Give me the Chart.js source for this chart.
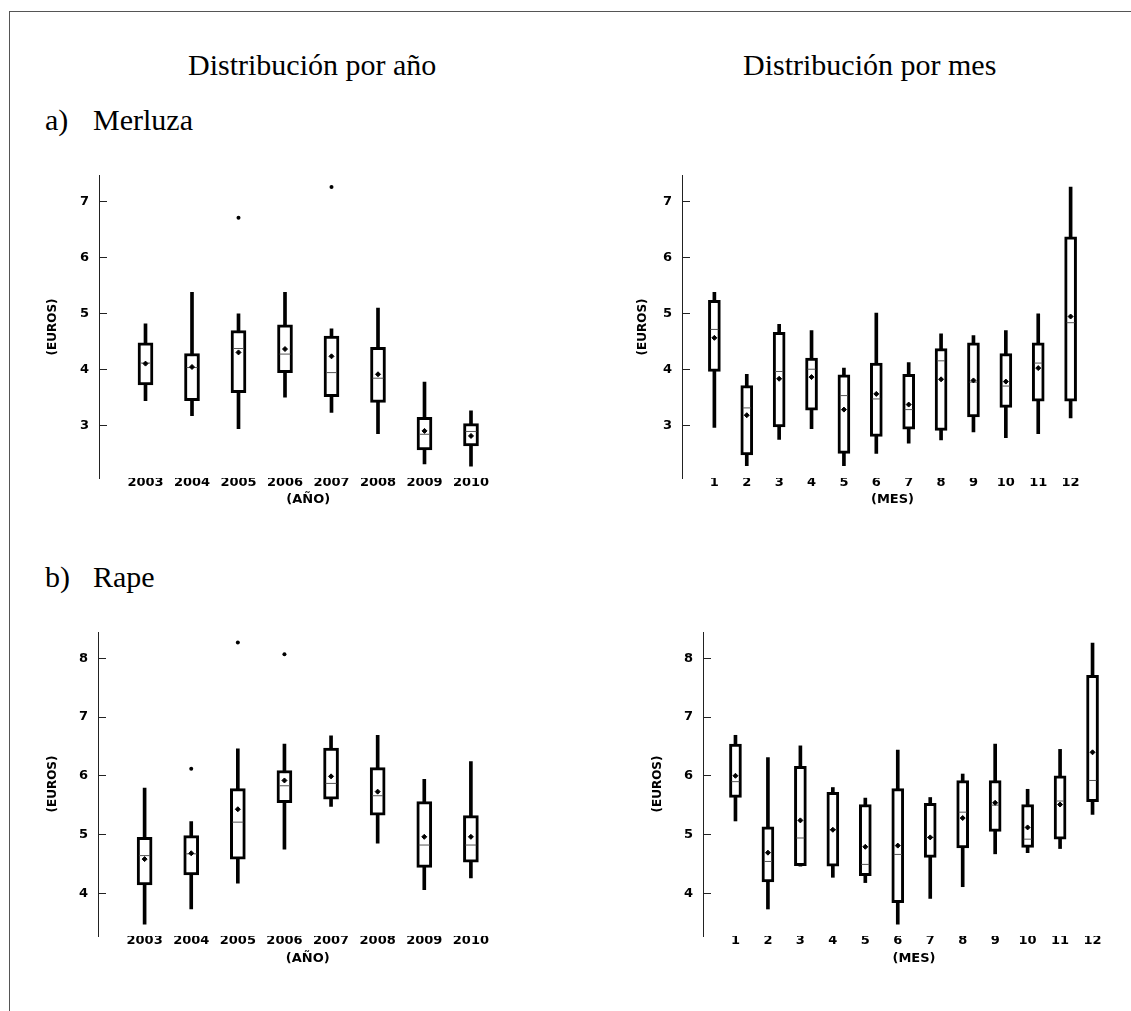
<!DOCTYPE html>
<html>
<head>
<meta charset="utf-8">
<script src="https://cdn.jsdelivr.net/npm/chart.js@4"></script>
<style>
  body { margin: 0; background: #fff; width: 1131px; height: 1011px; position: relative; overflow: hidden; }
  .frame { position: absolute; left: 9px; top: 11px; width: 1200px; height: 1100px;
           border-left: 1.5px solid #555; border-top: 1.5px solid #555; }
  .txt { position: absolute; font-family: "Liberation Serif", "Times New Roman", serif;
         font-size: 30px; line-height: 1; color: #000; white-space: nowrap; }
  canvas { position: absolute; }
</style>
</head>
<body>
<div class="frame"></div>
<div class="txt" style="left:188px; top:50px;">Distribución por año</div>
<div class="txt" style="left:743px; top:50px;">Distribución por mes</div>
<div class="txt" style="left:45px; top:105px;">a)</div>
<div class="txt" style="left:93px; top:105px;">Merluza</div>
<div class="txt" style="left:45px; top:562px;">b)</div>
<div class="txt" style="left:93px; top:562px;">Rape</div>

<canvas id="merAno" width="504" height="368" style="left:20px; top:150px;"></canvas>
<canvas id="merMes" width="493" height="368" style="left:615px; top:150px;"></canvas>
<canvas id="rapAno" width="504" height="376" style="left:20px; top:600px;"></canvas>
<canvas id="rapMes" width="500" height="376" style="left:630px; top:600px;"></canvas>

<script>
console.log("JS is loading");

// categories
const years = ['2003', '2004', '2005', '2006', '2007', '2008', '2009', '2010'];
const months = ['1', '2', '3', '4', '5', '6', '7', '8', '9', '10', '11', '12'];

// a) Merluza - por año
const merAnoMin  = [3.45, 3.18, 2.95, 3.51, 3.24, 2.86, 2.32, 2.28];
const merAnoQ1   = [3.73, 3.45, 3.59, 3.95, 3.52, 3.42, 2.57, 2.64];
const merAnoMed  = [4.12, 4.04, 4.38, 4.28, 3.95, 3.85, 2.85, 2.90];
const merAnoQ3   = [4.48, 4.29, 4.70, 4.80, 4.60, 4.40, 3.15, 3.04];
const merAnoMax  = [4.82, 5.38, 5.00, 5.38, 4.73, 5.10, 3.78, 3.27];
const merAnoMean = [4.11, 4.05, 4.31, 4.37, 4.24, 3.92, 2.91, 2.82];
const merAnoOutCat = ['2005', '2007'];
const merAnoOutVal = [6.71, 7.26];

// a) Merluza - por mes
const merMesMin  = [2.97, 2.29, 2.76, 2.95, 2.29, 2.51, 2.69, 2.75, 2.89, 2.79, 2.86, 3.14];
const merMesQ1   = [3.97, 2.48, 2.98, 3.28, 2.51, 2.81, 2.94, 2.92, 3.16, 3.33, 3.44, 3.44];
const merMesMed  = [4.72, 3.32, 3.97, 4.01, 3.54, 3.48, 3.29, 4.16, 3.78, 3.71, 4.12, 4.84];
const merMesQ3   = [5.24, 3.72, 4.67, 4.21, 3.91, 4.12, 3.92, 4.38, 4.48, 4.29, 4.48, 6.37];
const merMesMax  = [5.38, 3.92, 4.81, 4.70, 4.03, 5.01, 4.13, 4.64, 4.61, 4.70, 5.00, 7.26];
const merMesMean = [4.57, 3.19, 3.84, 3.87, 3.29, 3.57, 3.38, 3.83, 3.81, 3.79, 4.03, 4.95];

// b) Rape - por año
const rapAnoMin  = [3.47, 3.73, 4.17, 4.75, 5.48, 4.85, 4.06, 4.26];
const rapAnoQ1   = [4.14, 4.31, 4.58, 5.54, 5.60, 5.33, 4.44, 4.53];
const rapAnoMed  = [4.64, 4.67, 5.21, 5.83, 5.87, 5.66, 4.82, 4.82];
const rapAnoQ3   = [4.95, 4.98, 5.78, 6.09, 6.47, 6.14, 5.56, 5.32];
const rapAnoMax  = [5.79, 5.22, 6.46, 6.54, 6.68, 6.69, 5.94, 6.24];
const rapAnoMean = [4.58, 4.68, 5.43, 5.92, 5.99, 5.73, 4.96, 4.96];
const rapAnoOutCat = ['2004', '2005', '2006'];
const rapAnoOutVal = [6.12, 8.27, 8.07];

// b) Rape - por mes
const rapMesMin  = [5.23, 3.73, 4.46, 4.27, 4.18, 3.47, 3.91, 4.11, 4.67, 4.69, 4.76, 5.34];
const rapMesQ1   = [5.63, 4.19, 4.47, 4.46, 4.30, 3.84, 4.61, 4.77, 5.05, 4.78, 4.92, 5.56];
const rapMesMed  = [5.90, 4.54, 4.94, 5.08, 4.49, 4.66, 4.95, 5.38, 5.50, 4.92, 5.57, 5.92];
const rapMesQ3   = [6.54, 5.13, 6.16, 5.72, 5.51, 5.78, 5.53, 5.92, 5.92, 5.51, 6.00, 7.71];
const rapMesMax  = [6.69, 6.31, 6.51, 5.80, 5.62, 6.44, 5.63, 6.03, 6.54, 5.77, 6.45, 8.26];
const rapMesMean = [6.00, 4.69, 5.24, 5.08, 4.79, 4.81, 4.95, 5.28, 5.54, 5.12, 5.51, 6.40];

const sans = "'DejaVu Sans', 'Open Sans', sans-serif";
const tickFont = { family: sans, size: 13, weight: 'bold' };
const xTickFont = { family: sans, size: 13, weight: 'bold', lineHeight: 0.75 };
const yTitleFont = { family: sans, size: 12, weight: 'bold' };

function boxChart(id, cats, lo, q1, med, q3, hi, mean, outCat, outVal, cfg) {
  const pos = (i) => i + 1;
  const datasets = [
    { // mean
      type: 'scatter', order: 0,
      data: mean.map((v, i) => ({ x: pos(i), y: v })),
      pointStyle: 'rectRot', radius: 2.5, backgroundColor: '#000', borderColor: '#000', borderWidth: 1
    },
    { // outliers
      type: 'scatter', order: 0,
      data: outCat.map((c, i) => ({ x: cats.indexOf(c) + 1, y: outVal[i] })),
      pointStyle: 'circle', radius: 2, backgroundColor: '#000', borderColor: '#000', borderWidth: 0
    },
    { // median
      type: 'scatter', order: 1,
      data: med.map((v, i) => ({ x: pos(i), y: v })),
      pointStyle: 'line', radius: cfg.boxW / 2 - 2, borderColor: '#555', borderWidth: 1
    },
    { // box
      type: 'bar', order: 2,
      data: q1.map((v, i) => ({ x: pos(i), y: [v, q3[i]] })),
      backgroundColor: '#fff', borderColor: '#000', borderWidth: 3, borderSkipped: false,
      barThickness: cfg.boxW, grouped: false
    },
    { // whiskers
      type: 'bar', order: 3,
      data: lo.map((v, i) => ({ x: pos(i), y: [v, hi[i]] })),
      backgroundColor: '#000', borderWidth: 0,
      barThickness: 3, grouped: false
    }
  ];

  return new Chart(document.getElementById(id), {
    type: 'bar',
    data: { datasets },
    options: {
      responsive: false,
      animation: false,
      events: [],
      layout: { padding: { top: cfg.padTop, left: 0, right: 0, bottom: 0 } },
      plugins: { legend: { display: false }, tooltip: { enabled: false } },
      scales: {
        x: {
          type: 'linear', offset: false,
          min: 0, max: cats.length + 1,
          grid: { display: false, drawTicks: false },
          border: { display: false },
          ticks: {
            stepSize: 1, autoSkip: false, maxRotation: 0, padding: 0,
            color: '#000', font: xTickFont,
            callback: (v) => cats[v - 1] || ''
          },
          title: { display: true, text: cfg.xTitle, color: '#000', font: tickFont,
                   padding: { top: 0, bottom: cfg.xTitlePad } },
          afterFit: (s) => { s.height = 40; }
        },
        y: {
          type: 'linear',
          min: cfg.yMin, max: cfg.yMax,
          grid: { drawOnChartArea: false, drawTicks: true, tickLength: -8, color: '#222', lineWidth: 1 },
          border: { display: true, color: '#222', width: 1 },
          ticks: { stepSize: 1, includeBounds: false, padding: 18, color: '#000', font: tickFont },
          title: { display: true, text: '(EUROS)', color: '#000', font: yTitleFont,
                   padding: { top: cfg.yTitlePad, bottom: 0 } },
          afterFit: (s) => { s.width = cfg.yW; }
        }
      }
    }
  });
}

document.addEventListener("DOMContentLoaded", () => {
  boxChart('merAno', years, merAnoMin, merAnoQ1, merAnoMed, merAnoQ3, merAnoMax, merAnoMean,
    merAnoOutCat, merAnoOutVal,
    { boxW: 15, padTop: 23, yW: 79, yMin: 2.07, yMax: 7.46, xTitle: '(AÑO)', xTitlePad: 11, yTitlePad: 26 });

  boxChart('merMes', months, merMesMin, merMesQ1, merMesMed, merMesQ3, merMesMax, merMesMean,
    [], [],
    { boxW: 12, padTop: 23, yW: 67, yMin: 2.07, yMax: 7.46, xTitle: '(MES)', xTitlePad: 11, yTitlePad: 21 });

  boxChart('rapAno', years, rapAnoMin, rapAnoQ1, rapAnoMed, rapAnoQ3, rapAnoMax, rapAnoMean,
    rapAnoOutCat, rapAnoOutVal,
    { boxW: 15, padTop: 32, yW: 78, yMin: 3.27, yMax: 8.45, xTitle: '(AÑO)', xTitlePad: 10, yTitlePad: 26 });

  boxChart('rapMes', months, rapMesMin, rapMesQ1, rapMesMed, rapMesQ3, rapMesMax, rapMesMean,
    [], [],
    { boxW: 12, padTop: 32, yW: 73, yMin: 3.27, yMax: 8.45, xTitle: '(MES)', xTitlePad: 10, yTitlePad: 21 });
});
</script>
</body>
</html>
